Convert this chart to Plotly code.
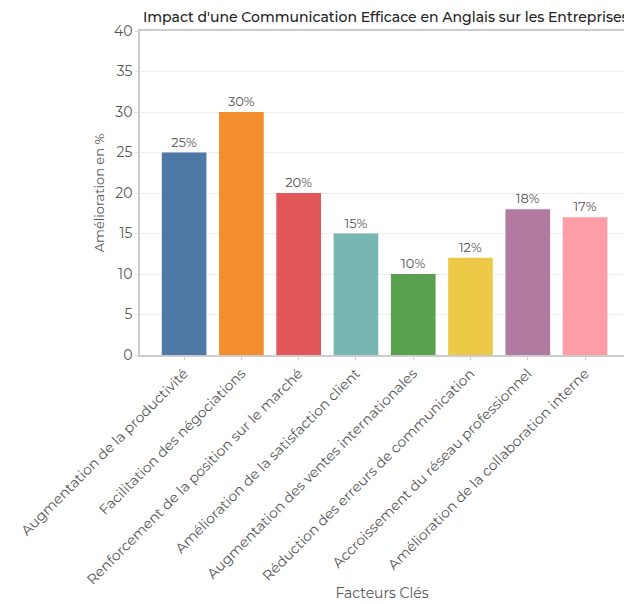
import plotly.graph_objects as go

# Key factors and their improvement (%)
facteurs = [
    "Augmentation de la productivité",
    "Facilitation des négociations",
    "Renforcement de la position sur le marché",
    "Amélioration de la satisfaction client",
    "Augmentation des ventes internationales",
    "Réduction des erreurs de communication",
    "Accroissement du réseau professionnel",
    "Amélioration de la collaboration interne",
]
amelioration = [25, 30, 20, 15, 10, 12, 18, 17]
couleurs = ["#4E79A7", "#F28E2B", "#E15759", "#76B7B2",
            "#59A14F", "#EDC948", "#B07AA1", "#FF9DA7"]
y_ticks = [0, 5, 10, 15, 20, 25, 30, 35, 40]

FONT = "Montserrat, Open Sans, sans-serif"

fig = go.Figure(
    go.Bar(
        x=facteurs,
        y=amelioration,
        marker=dict(color=couleurs, line=dict(width=0)),
        text=[f"{v}%" for v in amelioration],
        textposition="outside",
        textfont=dict(family=FONT, size=13, color="#555"),
        cliponaxis=False,
    )
)

fig.update_layout(
    width=624,
    height=604,
    margin=dict(l=140, r=0, t=31, b=249),
    paper_bgcolor="white",
    plot_bgcolor="white",
    font=dict(family=FONT, size=14, color="#555"),
    title=dict(
        text="Impact d'une Communication Efficace en Anglais sur les Entreprises",
        x=0.006, xref="paper", xanchor="left",
        y=0.972, yanchor="middle",
        font=dict(family=FONT, size=14, color="#222", weight=500),
    ),
    showlegend=False,
    bargap=0.22,
)

fig.update_xaxes(
    title=dict(text="Facteurs Clés", font=dict(family=FONT, size=14, color="#555"), standoff=0),
    tickangle=-45,
    tickfont=dict(family=FONT, size=14, color="#555"),
    range=[-0.77, 7.68],
    showline=True, linecolor="#ccc", linewidth=1.5, mirror=True,
    ticks="outside", ticklen=3, tickcolor="#ccc",
    showgrid=False,
)
fig.update_yaxes(
    title=dict(text="Amélioration en %", font=dict(family=FONT, size=13, color="#555"), standoff=6),
    range=[0, 40],
    tickvals=y_ticks,
    tickfont=dict(family=FONT, size=14, color="#555"),
    showline=True, linecolor="#ccc", linewidth=1.5,
    ticks="outside", ticklen=3, tickcolor="#ddd",
    showgrid=True, gridcolor="#eee",
    zeroline=False,
)

fig.write_html("out.html")
